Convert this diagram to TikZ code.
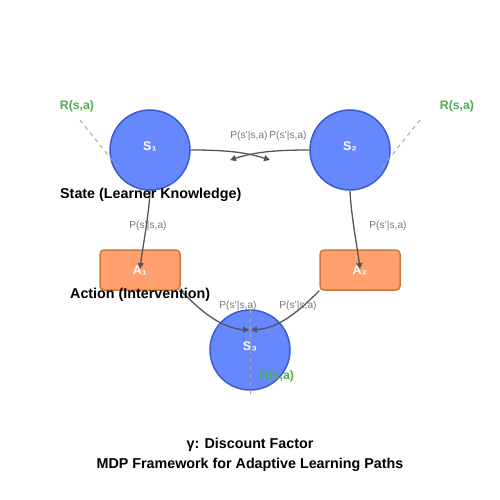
\documentclass[tikz,border=0pt]{standalone}
\usepackage{fontspec}
\setmainfont{Liberation Sans}
\usetikzlibrary{arrows.meta}
\definecolor{stfill}{HTML}{6688FF}
\definecolor{stdraw}{HTML}{3D5BD1}
\definecolor{acfill}{HTML}{FFA06E}
\definecolor{acdraw}{HTML}{CC7A3A}
\definecolor{edgec}{HTML}{555555}
\definecolor{lblc}{HTML}{777777}
\definecolor{rwc}{HTML}{4CAF50}
\tikzset{
  statenode/.style={circle, fill=stfill, draw=stdraw, line width=1.5pt, minimum size=80pt, inner sep=0pt, text=white, font=\bfseries\fontsize{12.5}{12.5}\selectfont},
  actnode/.style={rectangle, rounded corners=4pt, fill=acfill, draw=acdraw, line width=1.5pt, minimum width=80pt, minimum height=40pt, inner sep=0pt, text=white, font=\bfseries\fontsize{12.5}{12.5}\selectfont},
  trans/.style={draw=edgec, line width=1.3pt, -{Triangle[length=6pt,width=6pt]}},
  plabel/.style={text=lblc, font=\fontsize{10.2}{10.2}\selectfont, inner sep=0pt},
  rlabel/.style={text=rwc, font=\bfseries\fontsize{12.3}{12.3}\selectfont, inner sep=0pt},
  rwline/.style={draw=gray!70, line width=1pt, dash pattern=on 4pt off 4pt},
  heading/.style={text=black, font=\bfseries\fontsize{14.3}{14.3}\selectfont, inner sep=0pt},
}
\begin{document}
\begin{tikzpicture}[x=1pt,y=-1pt]
\useasboundingbox (0,0) rectangle (500,500);
% states and actions
\node[statenode] (s1) at (150,150) {};
\node[statenode] (s2) at (350,150) {};
\node[statenode] (s3) at (250,350) {};
\node[actnode] (a1) at (140,270) {};
\node[actnode] (a2) at (360,270) {};
\node[text=white, font=\bfseries\fontsize{12.5}{12.5}\selectfont] (s1t) at (150,146) {S₁};
\node[text=white, font=\bfseries\fontsize{12.5}{12.5}\selectfont] (s2t) at (350,146) {S₂};
\node[text=white, font=\bfseries\fontsize{12.5}{12.5}\selectfont] (s3t) at (250,346) {S₃};
\node[text=white, font=\bfseries\fontsize{12.5}{12.5}\selectfont] (a1t) at (140,270) {A₁};
\node[text=white, font=\bfseries\fontsize{12.5}{12.5}\selectfont] (a2t) at (360,270) {A₂};
% arrow end points
\coordinate (t12) at (270,160);
\coordinate (t21) at (230,160);
\coordinate (ta1) at (140,269);
\coordinate (ta2) at (360,269);
\coordinate (ts3l) at (249,330);
\coordinate (ts3r) at (251,330);
% transitions
\draw[trans] (s1.east) .. controls (225,150) and (245,152) .. (t12);
\draw[trans] (s2.west) .. controls (275,150) and (255,152) .. (t21);
\draw[trans] (s1.south) .. controls (149,215) and (143,245) .. (ta1);
\draw[trans] (s2.south) .. controls (351,215) and (357,245) .. (ta2);
\draw[trans] (a1.south east) .. controls (200,310) and (220,328) .. (ts3l);
\draw[trans] (a2.south west) .. controls (300,310) and (280,328) .. (ts3r);
% transition labels
\node[plabel] (p1) at (249,136) {P(s'|s,a)};
\node[plabel] (p2) at (288,136) {P(s'|s,a)};
\node[plabel] (p3) at (148,226) {P(s'|s,a)};
\node[plabel] (p4) at (388,226) {P(s'|s,a)};
\node[plabel] (p5) at (238,306) {P(s'|s,a)};
\node[plabel] (p6) at (298,306) {P(s'|s,a)};
% rewards
\node[rlabel] (r1) at (77,106) {R(s,a)};
\node[rlabel] (r2) at (457,106) {R(s,a)};
\node[rlabel] (r3) at (277,376) {R(s,a)};
\coordinate (d1a) at (80,120);
\coordinate (d1b) at (120,170);
\coordinate (d2a) at (420,120);
\coordinate (d2b) at (380,170);
\coordinate (d3a) at (250,310);
\coordinate (d3b) at (250,398);
\draw[rwline] (d1a) -- (d1b);
\draw[rwline] (d2a) -- (d2b);
\draw[rwline] (d3a) -- (d3b);
% headings
\node[heading, anchor=west] (h1) at (60,195) {State (Learner Knowledge)};
\node[heading, anchor=west] (h2) at (70,295) {Action (Intervention)};
\node[heading] (h3) at (250,445) {γ: Discount Factor};
\node[heading] (h4) at (250,465) {MDP Framework for Adaptive Learning Paths};
\end{tikzpicture}
\end{document}
